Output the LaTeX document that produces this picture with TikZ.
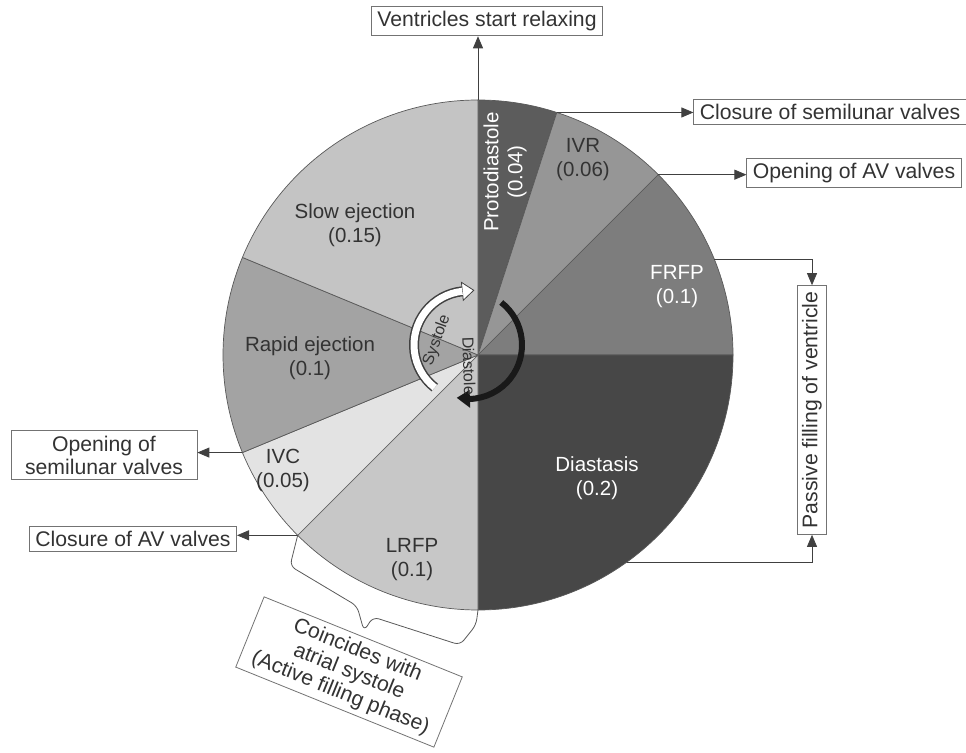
\documentclass[tikz,border=0pt]{standalone}
\usepackage{fontspec}
\setmainfont{Liberation Sans}
\usetikzlibrary{arrows.meta, positioning, calc}

\begin{document}
\begin{tikzpicture}[
        x=1pt, y=1pt,
        sector/.style={draw=black!65, line width=0.7pt},
        seclbl/.style={font=\fontsize{20.5}{24}\selectfont, align=center, text=black!80},
        wseclbl/.style={seclbl, text=white},
        lbl/.style={draw=black!55, line width=0.8pt, fill=white, font=\fontsize{21.2}{23}\selectfont,
            text=black!80, inner xsep=6pt, inner ysep=5pt, align=center},
        pointer/.style={draw=black!75, line width=0.8pt, -{Triangle[length=12pt, width=10pt]}},
        bracel/.style={draw=black!65, line width=0.8pt, rounded corners=6pt},
        cyc/.style={font=\fontsize{16}{19}\selectfont, text=black!80, inner sep=1pt}
    ]
        \useasboundingbox (0,0) rectangle (966,752);
        \def\R{255}
        \coordinate (C) at (478,397);

        % Sectors (0.8 s cycle)
        \foreach \a/\b/\shade in {90/72/64, 72/45/41, 45/0/51, 0/-90/72, -90/-135/22,
                                  -135/-157.5/11, -157.5/-202.5/36, -202.5/-270/23} {
            \filldraw[sector, fill=black!\shade] (C) -- ($(C)+(\a:\R pt)$)
                arc[start angle=\a, end angle=\b, radius=\R pt] -- cycle;
        }

        % Points on the rim
        \foreach \n/\a in {b90/90, b72/72, b45/45, b225/225, b202/202.5, b270/270, pf1/22, pf2/-54.3} {
            \coordinate (\n) at ($(C)+(\a:\R pt)$);
        }

        % Phase labels
        \node[wseclbl, rotate=90] (proto) at (505,580) {Protodiastole\\(0.04)};
        \node[seclbl] (ivr) at (583,592) {IVR\\(0.06)};
        \node[wseclbl] (frfp) at (677,465) {FRFP\\(0.1)};
        \node[wseclbl] (diast) at (597,274) {Diastasis\\(0.2)};
        \node[seclbl] (lrfp) at (412,192) {LRFP\\(0.1)};
        \node[seclbl] (ivc) at (283,282) {IVC\\(0.05)};
        \node[seclbl] (rapid) at (310,394) {Rapid ejection\\(0.1)};
        \node[seclbl] (slow) at (355,527) {Slow ejection\\(0.15)};

        % Systole / diastole arrows
        \coordinate (sc) at (468,407);
        \draw[black!75, line width=10pt] ($(sc)+(232:54pt)$) arc[start angle=232, end angle=96, radius=54pt];
        \filldraw[fill=white, draw=black!75, line width=0.8pt] ($(sc)+(96:63pt)$) -- ($(sc)+(84:55pt)$) -- ($(sc)+(96:45pt)$) -- cycle;
        \draw[white, line width=7pt] ($(sc)+(232:54pt)$) arc[start angle=232, end angle=96, radius=54pt];
        \draw[black!90, line width=6pt] ($(sc)+(52:54pt)$) arc[start angle=52, end angle=-88, radius=54pt];
        \fill[black!90] ($(sc)+(-88:63pt)$) -- ($(sc)+(-102:54pt)$) -- ($(sc)+(-88:45pt)$) -- cycle;
        \node[cyc, rotate=70] (sys) at (437,412) {Systole};
        \node[cyc, rotate=-88] (dia) at (469,386) {Diastole};

        % Event boxes
        \node[lbl] (relax) at (487,731) {Ventricles start relaxing};
        \node[lbl] (closeSL) at (830,640) {Closure of semilunar valves};
        \node[lbl] (openAV) at (854,579) {Opening of AV valves};
        \node[lbl, rotate=90] (passive) at (812,342) {Passive filling of ventricle};
        \node[lbl, inner xsep=14pt] (openSL) at (104,297) {Opening of\\semilunar valves};
        \node[lbl] (closeAV) at (133,213) {Closure of AV valves};
        \node[lbl, rotate=-22, inner xsep=12pt] (atrial) at (349,80) {Coincides with\\atrial systole\\(Active filling phase)};

        % Connections
        \draw[pointer] (b90) -- (b90 |- relax.south);
        \draw[pointer] (b72) -- (b72 -| closeSL.west);
        \draw[pointer] (b45) -- (b45 -| openAV.west);
        \draw[pointer] (b202) -- (b202 -| openSL.east);
        \draw[pointer] (b225) -- (b225 -| closeAV.east);
        \draw[pointer] (pf1) -| (passive.east);
        \draw[pointer] (pf2) -| (passive.west);

        % Brace over LRFP
        \coordinate (btip) at (364,121);
        \draw[bracel] (b225) -- (290,186) -- (357,146) -- (btip) -- (373,135) -- (460,107) -- (476,127) -- (b270);
    \end{tikzpicture}
\end{document}
